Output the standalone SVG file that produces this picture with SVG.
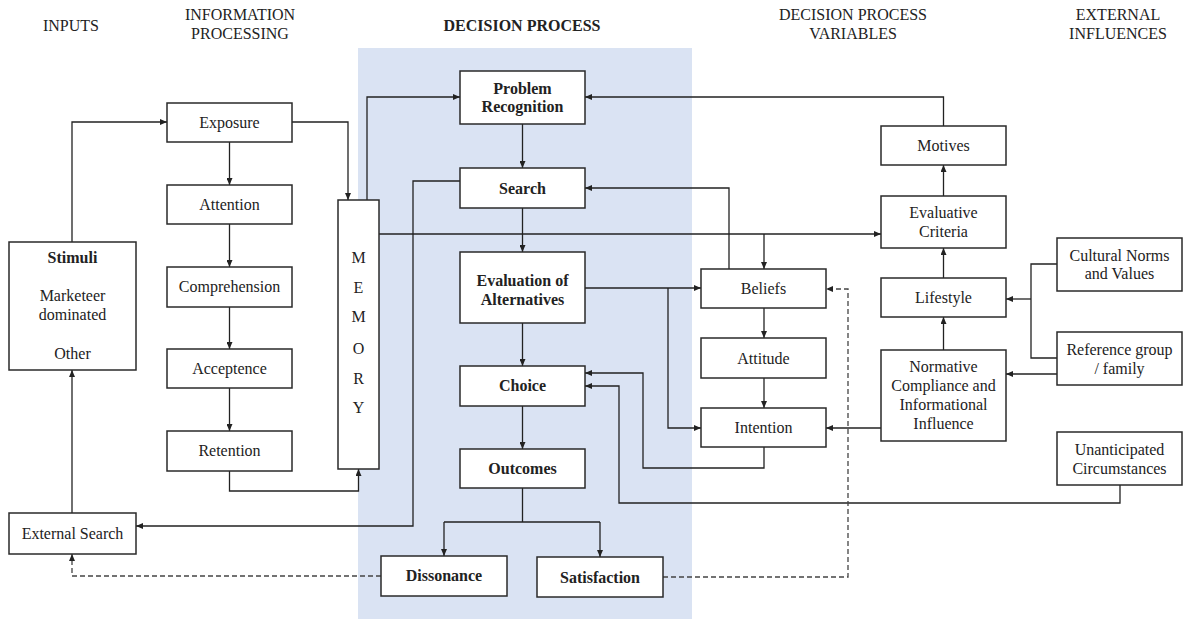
<svg xmlns="http://www.w3.org/2000/svg" width="1183" height="619" viewBox="0 0 1183 619" font-family="'Liberation Serif', Tinos, 'Times New Roman', 'DejaVu Serif', serif">
  <style>
    text { font-family: "Liberation Serif", Tinos, "Times New Roman", "DejaVu Serif", serif; font-size: 16px; fill: #222; text-anchor: middle; }
    .b { font-weight: bold; }
    .box { fill: #fff; stroke: #2a2a2a; stroke-width: 1.5; }
    .ln { fill: none; stroke: #222; stroke-width: 1.3; }
    .arr { marker-end: url(#ah); }
    .dash { fill: none; stroke: #444; stroke-width: 1.3; stroke-dasharray: 5 3; }
  </style>
  <defs>
    <marker id="ah" markerUnits="userSpaceOnUse" markerWidth="7" markerHeight="6" refX="7" refY="3" orient="auto">
      <path d="M0,0 L7,3 L0,6 z" fill="#222"/>
    </marker>
  </defs>

  <rect width="1183" height="619" fill="#fff"/>
  <!-- decision process band -->
  <rect x="358" y="48" width="334" height="571" fill="#dae3f3"/>

  <!-- column headings -->
  <g id="headings">
    <text x="71" y="31">INPUTS</text>
    <text x="240" y="20">INFORMATION</text>
    <text x="240" y="39">PROCESSING</text>
    <text class="b" x="522" y="31">DECISION PROCESS</text>
    <text x="853" y="20">DECISION PROCESS</text>
    <text x="853" y="39">VARIABLES</text>
    <text x="1118" y="20">EXTERNAL</text>
    <text x="1118" y="39">INFLUENCES</text>
  </g>

  <!-- connectors -->
  <g id="connectors">
    <path class="ln arr" d="M72,242 V122 H167"/>
    <path class="ln arr" d="M72,513 V370"/>
    <path class="ln arr" d="M229.5,142 V185"/>
    <path class="ln arr" d="M229.5,224 V267"/>
    <path class="ln arr" d="M229.5,307 V349"/>
    <path class="ln arr" d="M229.5,388 V431"/>
    <path class="ln arr" d="M292,122 H348 V200"/>
    <path class="ln arr" d="M229.5,471 V491 H358.5 V469"/>
    <path class="ln arr" d="M367,200 V97 H460"/>
    <path class="ln arr" d="M943.5,126 V97 H585"/>
    <path class="ln arr" d="M460,181 H413 V526 H136"/>
    <path class="ln arr" d="M522.5,124 V168"/>
    <path class="ln arr" d="M729,269 V188 H585"/>
    <path class="ln arr" d="M522.5,208 V252"/>
    <path class="ln arr" d="M379,234 H881"/>
    <path class="ln arr" d="M764,234 V269"/>
    <path class="ln arr" d="M585,288 H701"/>
    <path class="ln arr" d="M668,288 V428 H701"/>
    <path class="ln arr" d="M522.5,323 V366"/>
    <path class="ln arr" d="M764,308 V338"/>
    <path class="ln arr" d="M764,378 V408"/>
    <path class="ln arr" d="M764,447 V468 H643 V373 H585"/>
    <path class="ln arr" d="M1120,485 V503 H619 V386 H585"/>
    <path class="ln arr" d="M522.5,406 V449"/>
    <path class="ln" d="M522.5,488 V522 M444,522 H600"/>
    <path class="ln arr" d="M444,522 V556"/>
    <path class="ln arr" d="M600,522 V557"/>
    <path class="dash arr" d="M381,576 H72 V554"/>
    <path class="dash arr" d="M663,577 H848 V289 H826"/>
    <path class="ln arr" d="M943.5,196 V165"/>
    <path class="ln arr" d="M943.5,278 V248"/>
    <path class="ln arr" d="M943.5,350 V317"/>
    <path class="ln arr" d="M881,428 H826"/>
    <path class="ln" d="M1057,264 H1031 V358 H1057"/>
    <path class="ln arr" d="M1031,299 H1006"/>
    <path class="ln arr" d="M1057,374 H1006"/>
  </g>

  <!-- inputs -->
  <g id="stimuli">
    <rect class="box" x="9" y="242" width="127" height="128"/>
    <text class="b" x="72.5" y="263">Stimuli</text>
    <text x="72.5" y="301">Marketeer</text>
    <text x="72.5" y="320">dominated</text>
    <text x="72.5" y="359">Other</text>
  </g>
  <g id="external-search">
    <rect class="box" x="9" y="513" width="127" height="41"/>
    <text x="72.5" y="539">External Search</text>
  </g>

  <!-- information processing -->
  <g id="exposure">
    <rect class="box" x="167" y="103" width="125" height="39"/>
    <text x="229.5" y="128">Exposure</text>
  </g>
  <g id="attention">
    <rect class="box" x="167" y="185" width="125" height="39"/>
    <text x="229.5" y="210">Attention</text>
  </g>
  <g id="comprehension">
    <rect class="box" x="167" y="267" width="125" height="40"/>
    <text x="229.5" y="292">Comprehension</text>
  </g>
  <g id="acceptence">
    <rect class="box" x="167" y="349" width="125" height="39"/>
    <text x="229.5" y="374">Acceptence</text>
  </g>
  <g id="retention">
    <rect class="box" x="167" y="431" width="125" height="40"/>
    <text x="229.5" y="456">Retention</text>
  </g>
  <g id="memory">
    <rect class="box" x="338" y="200" width="41" height="269"/>
    <text x="358.5" y="263">M</text>
    <text x="358.5" y="293">E</text>
    <text x="358.5" y="322">M</text>
    <text x="358.5" y="354">O</text>
    <text x="358.5" y="384">R</text>
    <text x="358.5" y="413">Y</text>
  </g>

  <!-- decision process -->
  <g id="problem-recognition">
    <rect class="box" x="460" y="71" width="125" height="53"/>
    <text class="b" x="522.5" y="94">Problem</text>
    <text class="b" x="522.5" y="112">Recognition</text>
  </g>
  <g id="search">
    <rect class="box" x="460" y="168" width="125" height="40"/>
    <text class="b" x="522.5" y="194">Search</text>
  </g>
  <g id="evaluation">
    <rect class="box" x="460" y="252" width="125" height="71"/>
    <text class="b" x="522.5" y="286">Evaluation of</text>
    <text class="b" x="522.5" y="305">Alternatives</text>
  </g>
  <g id="choice">
    <rect class="box" x="460" y="366" width="125" height="40"/>
    <text class="b" x="522.5" y="391">Choice</text>
  </g>
  <g id="outcomes">
    <rect class="box" x="460" y="449" width="125" height="39"/>
    <text class="b" x="522.5" y="474">Outcomes</text>
  </g>
  <g id="dissonance">
    <rect class="box" x="381" y="556" width="126" height="40"/>
    <text class="b" x="444" y="581">Dissonance</text>
  </g>
  <g id="satisfaction">
    <rect class="box" x="537" y="557" width="126" height="40"/>
    <text class="b" x="600" y="583">Satisfaction</text>
  </g>

  <!-- decision process variables -->
  <g id="beliefs">
    <rect class="box" x="701" y="269" width="125" height="39"/>
    <text x="763.5" y="294">Beliefs</text>
  </g>
  <g id="attitude">
    <rect class="box" x="701" y="338" width="125" height="40"/>
    <text x="763.5" y="364">Attitude</text>
  </g>
  <g id="intention">
    <rect class="box" x="701" y="408" width="125" height="39"/>
    <text x="763.5" y="433">Intention</text>
  </g>
  <g id="motives">
    <rect class="box" x="881" y="126" width="125" height="39"/>
    <text x="943.5" y="151">Motives</text>
  </g>
  <g id="evaluative-criteria">
    <rect class="box" x="881" y="196" width="125" height="52"/>
    <text x="943.5" y="218">Evaluative</text>
    <text x="943.5" y="237">Criteria</text>
  </g>
  <g id="lifestyle">
    <rect class="box" x="881" y="278" width="125" height="39"/>
    <text x="943.5" y="303">Lifestyle</text>
  </g>
  <g id="normative">
    <rect class="box" x="881" y="350" width="125" height="91"/>
    <text x="943.5" y="372">Normative</text>
    <text x="943.5" y="391">Compliance and</text>
    <text x="943.5" y="410">Informational</text>
    <text x="943.5" y="429">Influence</text>
  </g>

  <!-- external influences -->
  <g id="cultural-norms">
    <rect class="box" x="1057" y="238" width="125" height="53"/>
    <text x="1119.5" y="261">Cultural Norms</text>
    <text x="1119.5" y="279">and Values</text>
  </g>
  <g id="reference-group">
    <rect class="box" x="1057" y="332" width="125" height="53"/>
    <text x="1119.5" y="355">Reference group</text>
    <text x="1119.5" y="374">/ family</text>
  </g>
  <g id="unanticipated">
    <rect class="box" x="1057" y="432" width="125" height="53"/>
    <text x="1119.5" y="455">Unanticipated</text>
    <text x="1119.5" y="474">Circumstances</text>
  </g>
</svg>
